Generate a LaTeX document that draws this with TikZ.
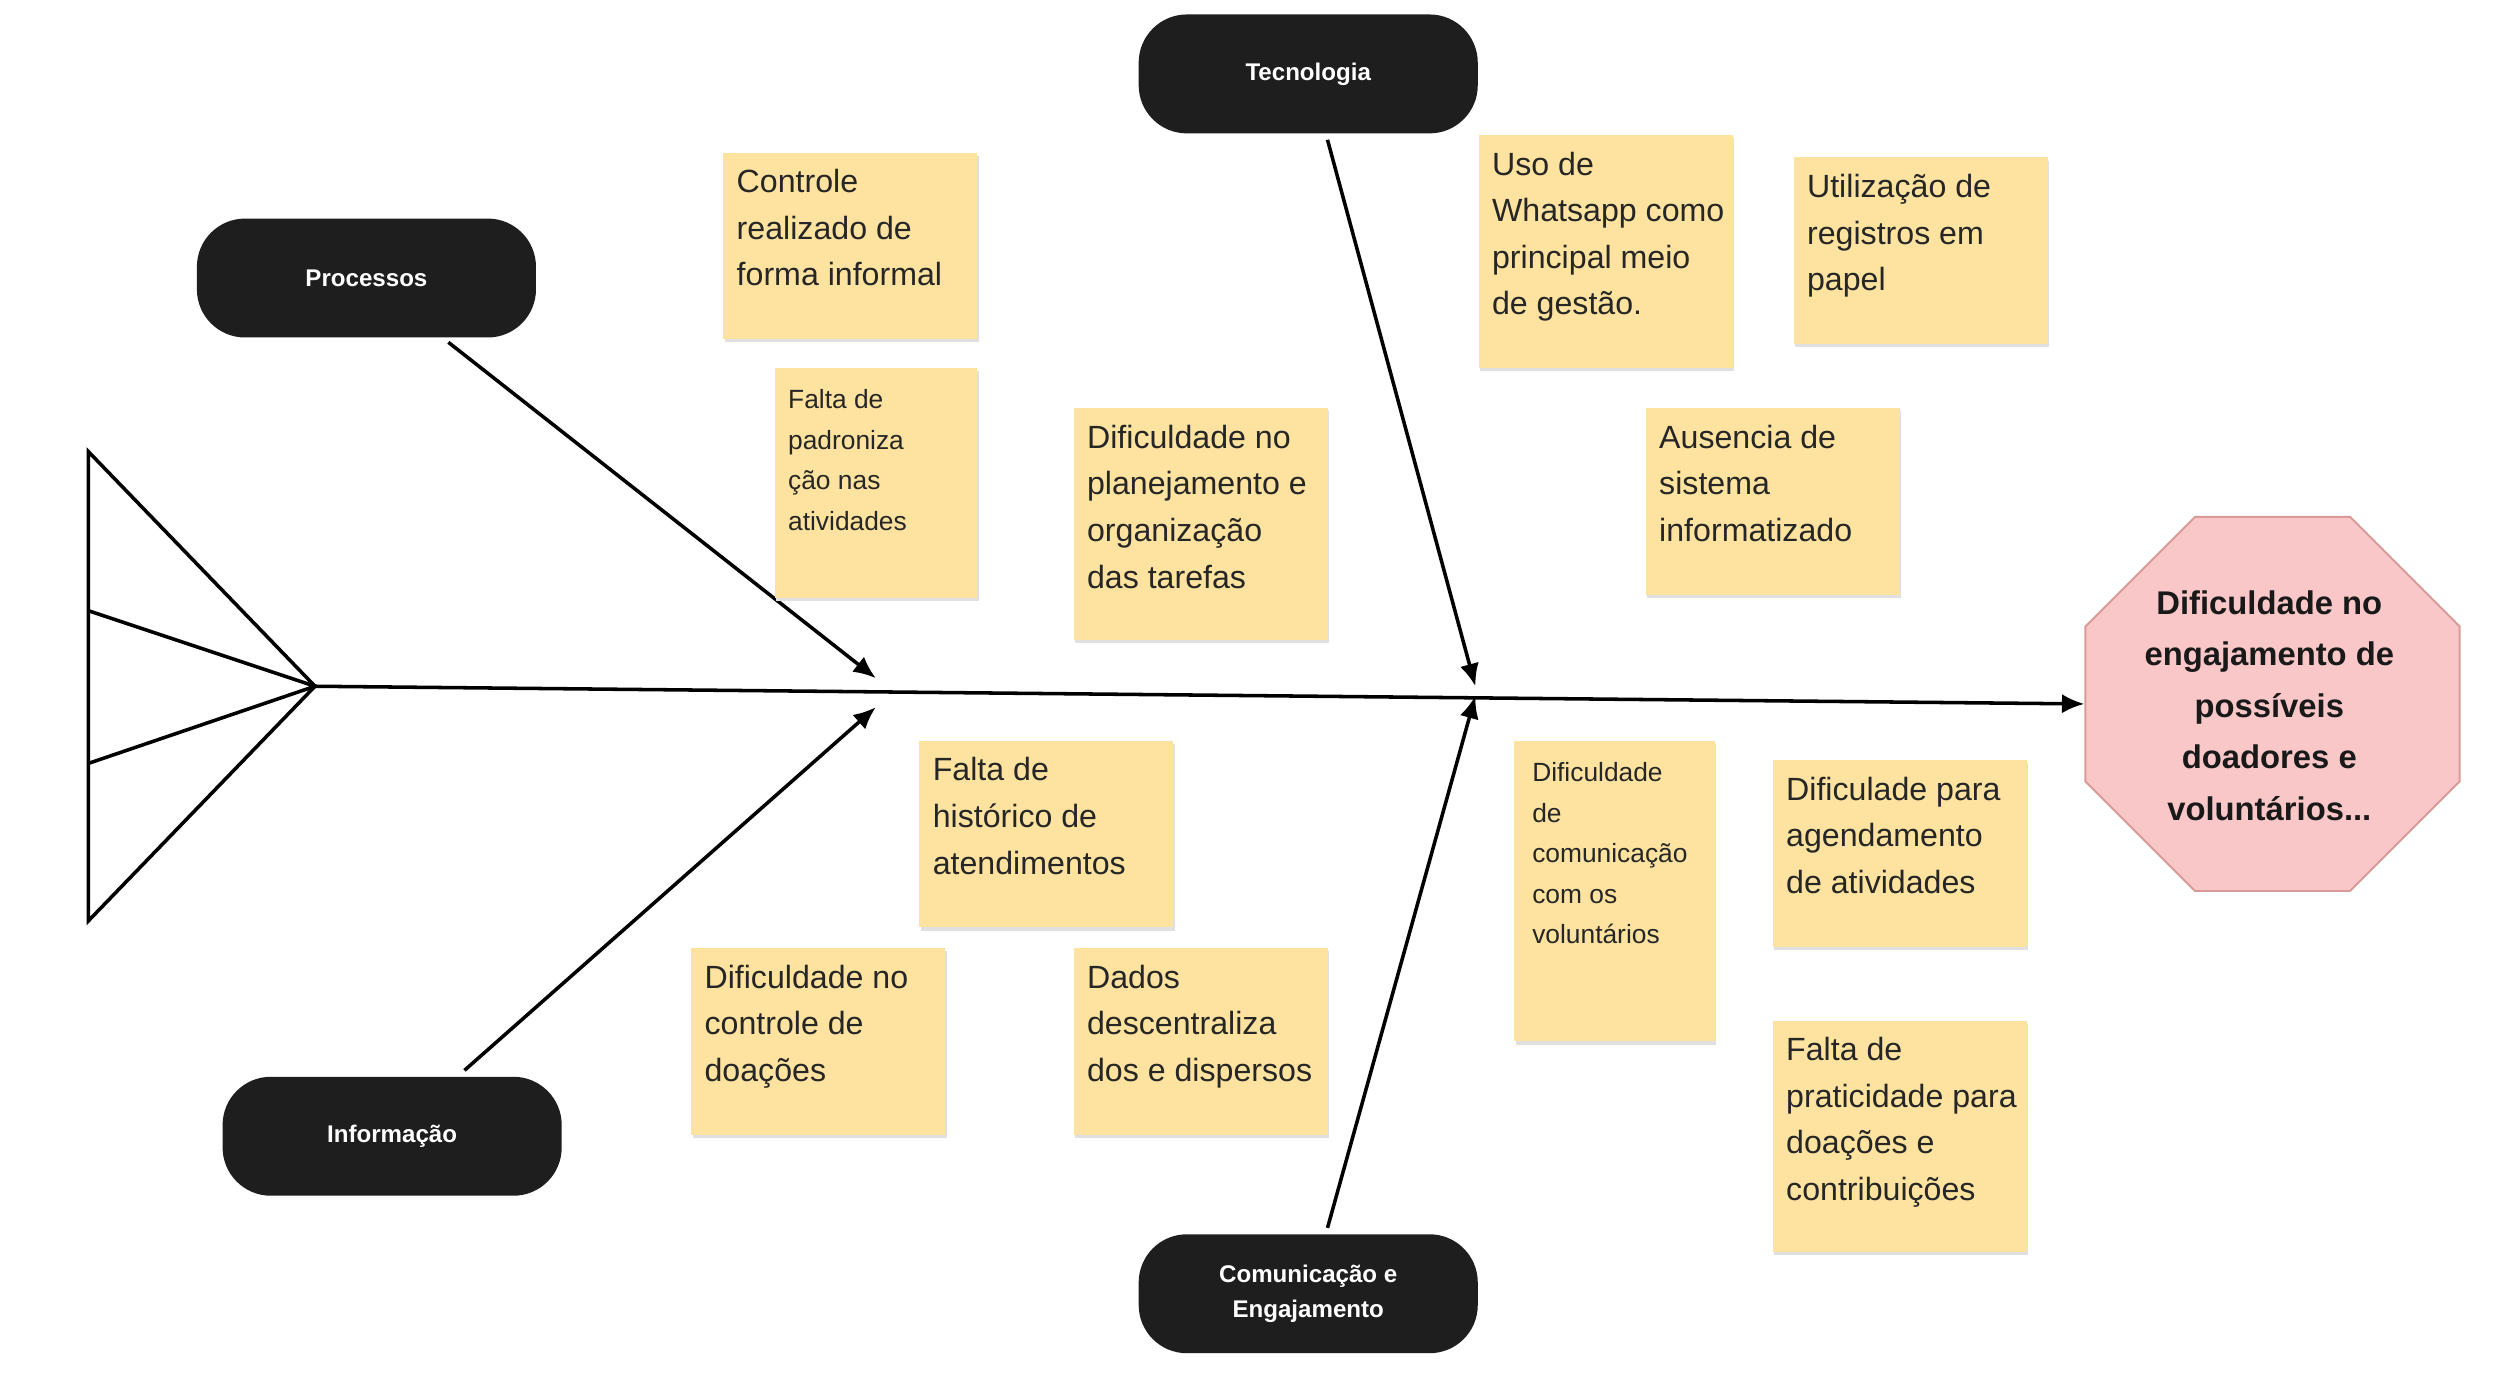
\documentclass[tikz,border=0pt]{standalone}
\usepackage{fontspec}
\setmainfont{Liberation Sans}
\usetikzlibrary{arrows.meta,shapes.geometric}
\definecolor{sticky}{HTML}{FDE39F}
\definecolor{pinkf}{HTML}{F9C7C7}
\definecolor{pinkd}{HTML}{D99A9A}
\definecolor{cat}{HTML}{1E1E1E}
\begin{document}
\begin{tikzpicture}[x=0.5pt,y=-0.5pt,
  catbox/.style={rectangle,rounded corners=15pt,fill=cat,text=white,font=\fontsize{7.5}{10}\selectfont\bfseries,align=center,minimum width=105.5pt,minimum height=37pt,inner sep=0},
  bone/.style={line width=1.1pt,-{Latex[length=7pt,width=6pt]}},
  stxt/.style={anchor=north west,inner sep=0,align=left,font=\fontsize{10}{14.5}\selectfont,text=black!85},
  sstxt/.style={anchor=north west,inner sep=0,align=left,font=\fontsize{8.2}{12.6}\selectfont,text=black!85}]
\useasboundingbox (0,0) rectangle (1568,871);
\fill[white] (0,0) rectangle (1568,871);
% tail
\draw[line width=1.1pt] (55,281) -- (196,427) -- (55,573) -- cycle;
\draw[line width=1.1pt] (55,380) -- (196,427) -- (55,475);
\coordinate (tail) at (196,427);
% head
\node[regular polygon,regular polygon sides=8,minimum size=126pt,fill=pinkf,draw=pinkd,line width=0.6pt,inner sep=0] (head) at (1414,438) {};
\node[font=\fontsize{10.2}{16}\selectfont\bfseries,align=center,text=black!90] (headt) at (1412,439) {Dificuldade no\\engajamento de\\possíveis\\doadores e\\voluntários...};
\draw[bone] (tail) -- (head.west);
% categories
\node[catbox] (proc) at (228,173) {Processos};
\node[catbox] (tec) at (814,46) {Tecnologia};
\node[catbox] (info) at (244,707) {Informação};
\node[catbox] (com) at (814,805) {Comunicação e\\[1pt]Engajamento};
\coordinate (p1) at (545,422);
\coordinate (p2) at (545,440);
\coordinate (t1) at (918,427);
\coordinate (t2) at (918,433);
\coordinate (ps) at (279,213);
\coordinate (is) at (289,666);
\coordinate (ts) at (826,87);
\coordinate (cs) at (826,764);
\draw[bone] (ps) -- (p1);
\draw[bone] (is) -- (p2);
\draw[bone] (ts) -- (t1);
\draw[bone] (cs) -- (t2);
% stickies
\foreach \n/\a/\b/\c/\d in {s1/450/95/608/211, s2/482/229/608/372, s3/668/254/826/398, s4/920/84/1078/229, s5/1116/98/1274/214, s6/1024/254/1182/370, s7/572/461/730/577, s8/430/590/588/706, s9/668/590/826/706, s10/942/461/1067/648, s11/1103/473/1261/589, s12/1103/635/1261/779}{
  \fill[black!12] (\a+1,\b+2) rectangle (\c+1,\d+2);
  \fill[sticky] (\a,\b) rectangle (\c,\d);
  \coordinate (\n) at (\a,\b);
}
\node[stxt] (t1n) at ([shift={(8,10)}]s1) {Controle\\realizado de\\forma informal};
\node[sstxt] (t2n) at ([shift={(8,13)}]s2) {Falta de\\padroniza\\ção nas\\atividades};
\node[stxt] (t3n) at ([shift={(8,10)}]s3) {Dificuldade no\\planejamento e\\organização\\das tarefas};
\node[stxt] (t4n) at ([shift={(8,10)}]s4) {Uso de\\Whatsapp como\\principal meio\\de gestão.};
\node[stxt] (t5n) at ([shift={(8,10)}]s5) {Utilização de\\registros em\\papel};
\node[stxt] (t6n) at ([shift={(8,10)}]s6) {Ausencia de\\sistema\\informatizado};
\node[stxt] (t7n) at ([shift={(8,10)}]s7) {Falta de\\histórico de\\atendimentos};
\node[stxt] (t8n) at ([shift={(8,10)}]s8) {Dificuldade no\\controle de\\doações};
\node[stxt] (t9n) at ([shift={(8,10)}]s9) {Dados\\descentraliza\\dos e dispersos};
\node[sstxt] (t10n) at ([shift={(11,13)}]s10) {Dificuldade\\de\\comunicação\\com os\\voluntários};
\node[stxt] (t11n) at ([shift={(8,10)}]s11) {Dificulade para\\agendamento\\de atividades};
\node[stxt] (t12n) at ([shift={(8,10)}]s12) {Falta de\\praticidade para\\doações e\\contribuições};
\end{tikzpicture}
\end{document}
